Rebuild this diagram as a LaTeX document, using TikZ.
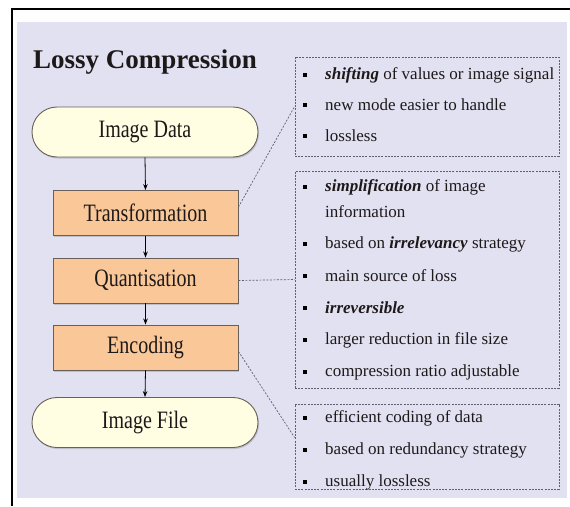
\documentclass[tikz,border=0pt]{standalone}
\usepackage{fontspec}
\setmainfont{Liberation Serif}
\newfontfamily\nodefont{Liberation Serif}[FakeStretch=0.8]
\usetikzlibrary{shadows,arrows.meta}
\definecolor{lav}{RGB}{226,225,242}
\definecolor{boxorange}{RGB}{250,200,152}
\definecolor{stadfill}{RGB}{255,253,226}
\definecolor{edgegray}{RGB}{105,95,90}
\definecolor{dotgray}{RGB}{95,95,110}
\definecolor{inkcol}{RGB}{30,25,25}
\tikzset{
  stadium/.style={draw=edgegray, line width=0.9pt, fill=stadfill, rounded corners=25pt,
    minimum width=226pt, minimum height=50pt, inner sep=0pt, text=inkcol,
    font=\nodefont\fontsize{25}{27}\selectfont,
    drop shadow={opacity=0.35, shadow xshift=1pt, shadow yshift=-1.5pt}},
  procbox/.style={draw=edgegray, line width=0.9pt, fill=boxorange,
    minimum width=185pt, minimum height=45pt, inner sep=0pt, text=inkcol,
    font=\nodefont\fontsize{25}{27}\selectfont,
    drop shadow={opacity=0.35, shadow xshift=1pt, shadow yshift=-1.5pt}},
  notebox/.style={draw=dotgray, line width=0.8pt, dash pattern=on 2pt off 1.2pt, inner sep=0pt},
  item/.style={anchor=west, inner sep=0pt, text=inkcol, font=\fontsize{17}{19}\selectfont},
  bul/.style={fill=black, minimum size=4pt, inner sep=0pt},
  flow/.style={-{Stealth[length=6pt,width=4.5pt]}, line width=0.8pt},
  dotline/.style={draw=dotgray, line width=0.7pt, dash pattern=on 2pt off 1.5pt}
}
\begin{document}
\begin{tikzpicture}[x=1pt,y=-1pt]
\useasboundingbox (0,0) rectangle (570,506);
\fill[white!96!lav] (12,9) rectangle (570,506);
\fill[lav] (17,22) rectangle (567,498);
\draw[line width=1.4pt] (12,506) -- (12,9) -- (570,9);

\node[anchor=base west, inner sep=0pt, text=inkcol, font=\fontsize{27}{30}\selectfont\bfseries] (title) at (33,68) {Lossy Compression};

\node[stadium] (data) at (145,132) {Image Data};
\node[procbox] (trans) at (145.5,213) {Transformation};
\node[procbox] (quant) at (145.5,280.5) {Quantisation};
\node[procbox] (enc) at (145.5,347.5) {Encoding};
\node[stadium] (file) at (145,422.5) {Image File};

\draw[flow] (data.south) -- (trans.north);
\draw[flow] (trans.south) -- (quant.north);
\draw[flow] (quant.south) -- (enc.north);
\draw[flow] (enc.south) -- (file.north);

\node[notebox, minimum width=264pt, minimum height=99pt] (n1) at (427,106.5) {};
\node[notebox, minimum width=264pt, minimum height=217pt] (n2) at (427,279.5) {};
\node[notebox, minimum width=264pt, minimum height=85pt] (n3) at (427,446.5) {};

\coordinate (t1) at ([yshift=6pt]trans.east);
\coordinate (e1) at ([yshift=-4pt]enc.east);
\coordinate (n3a) at ([yshift=9pt]n3.west);
\draw[dotline] (t1) -- (n1.west);
\draw[dotline] (quant.east) -- (n2.west);
\draw[dotline] (e1) -- (n3a);

% box 1
\node[bul] (b11) at (305,75) {};
\node[item] (i11) at (325,75) {\textbf{\textit{shifting}} of values or image signal};
\node[bul] (b12) at (305,105) {};
\node[item] (i12) at (325,105) {new mode easier to handle};
\node[bul] (b13) at (305,136) {};
\node[item] (i13) at (325,136) {lossless};
% box 2
\node[bul] (b21) at (305,187) {};
\node[item] (i21) at (325,187) {\textbf{\textit{simplification}} of image};
\node[item] (i22) at (325,212) {information};
\node[bul] (b23) at (305,244) {};
\node[item] (i23) at (325,244) {based on \textbf{\textit{irrelevancy}} strategy};
\node[bul] (b24) at (305,276) {};
\node[item] (i24) at (325,276) {main source of loss};
\node[bul] (b25) at (305,308) {};
\node[item] (i25) at (325,308) {\textbf{\textit{irreversible}}};
\node[bul] (b26) at (305,340) {};
\node[item] (i26) at (325,340) {larger reduction in file size};
\node[bul] (b27) at (305,372) {};
\node[item] (i27) at (325,372) {compression ratio adjustable};
% box 3
\node[bul] (b31) at (305,418) {};
\node[item] (i31) at (325,418) {efficient coding of data};
\node[bul] (b32) at (305,450) {};
\node[item] (i32) at (325,450) {based on redundancy strategy};
\node[bul] (b33) at (305,482) {};
\node[item] (i33) at (325,482) {usually lossless};
\end{tikzpicture}
\end{document}
